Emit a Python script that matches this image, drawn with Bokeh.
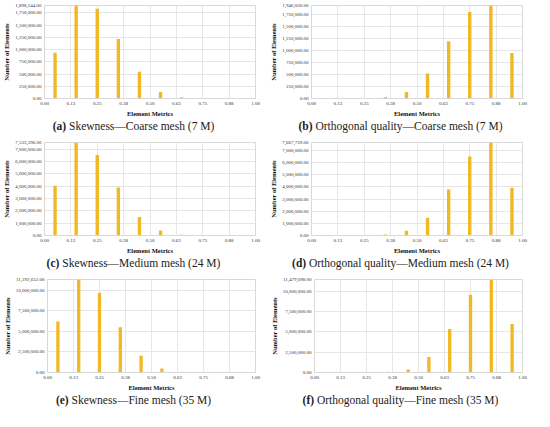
from bokeh.plotting import figure
from bokeh.models import FixedTicker, NumeralTickFormatter, Div, ColumnDataSource
from bokeh.layouts import column, row
from bokeh.embed import file_html
from bokeh.resources import INLINE

# bin centres of the element-metric histogram
bins = [0.05, 0.15, 0.25, 0.35, 0.45, 0.55, 0.65, 0.75, 0.85, 0.95]
x_ticks = [0.0, 0.125, 0.25, 0.375, 0.5, 0.625, 0.75, 0.875, 1.0]
x_tick_labels = ["0.00", "0.13", "0.25", "0.38", "0.50", "0.63", "0.75", "0.88", "1.00"]

skew_coarse = [935000, 1898244, 1830000, 1215000, 548000, 132000, 28000, 8000, 3000, 1500]
orth_coarse = [3000, 5000, 9000, 34000, 136000, 525000, 1200000, 1810000, 1946026, 954000]
skew_medium = [4040000, 7533396, 6520000, 3880000, 1500000, 400000, 60000, 15000, 5000, 3000]
orth_medium = [15000, 20000, 30000, 80000, 400000, 1460000, 3800000, 6520000, 7667739, 3940000]
skew_fine = [6200000, 11292652, 9670000, 5500000, 2040000, 490000, 80000, 20000, 10000, 5000]
orth_fine = [20000, 30000, 40000, 100000, 360000, 1900000, 5380000, 9600000, 11479098, 6000000]

y_steps = [250000, 250000, 1000000, 1000000, 2500000, 2500000]
caption_letters = ["a", "b", "c", "d", "e", "f"]
caption_texts = [
    "Skewness\u2014Coarse mesh (7 M)",
    "Orthogonal quality\u2014Coarse mesh (7 M)",
    "Skewness\u2014Medium mesh (24 M)",
    "Orthogonal quality\u2014Medium mesh (24 M)",
    "Skewness\u2014Fine mesh (35 M)",
    "Orthogonal quality\u2014Fine mesh (35 M)",
]
series = [skew_coarse, orth_coarse, skew_medium, orth_medium, skew_fine, orth_fine]

BAR = "#F0B823"
SERIF = "Liberation Serif"
PW, PH, CH = 267, 119, 18


def panel(vals, step, letter, text):
    ymax = max(vals)
    p = figure(width=PW, height=PH, x_range=(0, 1), y_range=(0, ymax),
               output_backend="svg", toolbar_location=None,
               min_border_left=40, min_border_right=12,
               min_border_top=5, min_border_bottom=10)
    src = ColumnDataSource(dict(x=bins, top=vals))
    p.vbar(x="x", top="top", width=0.016, bottom=0, source=src,
           fill_color=BAR, line_color=None)
    yt = list(range(0, int(ymax), step))
    yt.append(ymax)
    p.yaxis.ticker = FixedTicker(ticks=yt)
    p.yaxis.formatter = NumeralTickFormatter(format="0,0.00")
    p.xaxis.ticker = FixedTicker(ticks=x_ticks)
    p.xaxis.major_label_overrides = {t: l for t, l in zip(x_ticks, x_tick_labels)}
    for ax in (p.xaxis[0], p.yaxis[0]):
        ax.major_label_text_font = SERIF
        ax.major_label_text_font_size = "5px"
        ax.major_label_text_color = "#333333"
        ax.axis_label_text_font = SERIF
        ax.axis_label_text_font_size = "6.5px"
        ax.axis_label_text_font_style = "bold"
        ax.axis_label_text_color = "#111111"
        ax.axis_line_color = "#d9d9d9"
        ax.major_tick_line_color = None
        ax.minor_tick_line_color = None
        ax.major_tick_out = 0
        ax.major_tick_in = 0
        ax.major_label_standoff = 3
        ax.axis_label_standoff = 2
    p.xaxis.axis_label = "Element Metrics"
    p.yaxis.axis_label = "Number of Elements"
    p.xgrid.grid_line_color = "#e6e6e6"
    p.ygrid.grid_line_color = "#e6e6e6"
    p.outline_line_color = "#d9d9d9"
    p.background_fill_color = "white"
    p.border_fill_color = "white"
    cap = Div(text=f"<b>({letter})</b> {text}", width=PW, height=CH,
              margin=(0, 0, 0, 0),
              styles={"text-align": "center", "font-family": SERIF,
                      "font-size": "11.5px", "color": "#222222",
                      "line-height": "14px", "width": f"{PW}px"})
    return column(p, cap, spacing=0)


cells = [panel(v, s, l, t) for v, s, l, t in zip(series, y_steps, caption_letters, caption_texts)]
layout = column(
    row(cells[0], cells[1], spacing=0),
    row(cells[2], cells[3], spacing=0),
    row(cells[4], cells[5], spacing=0),
    spacing=0,
)

open("out.html", "w").write(file_html(layout, INLINE))
